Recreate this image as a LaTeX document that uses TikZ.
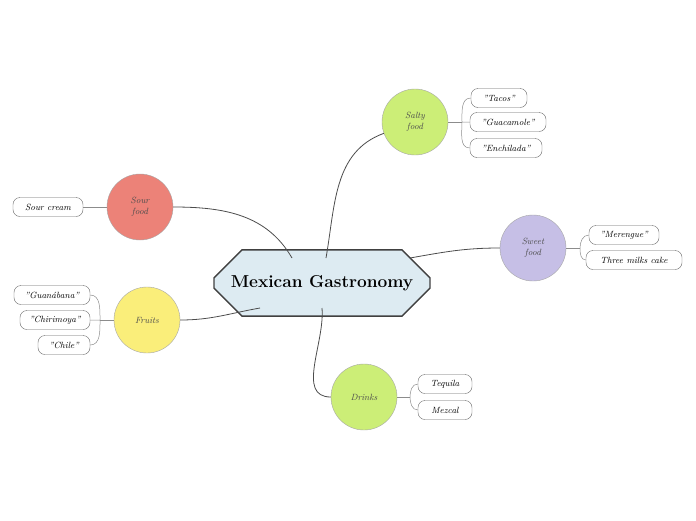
\documentclass[tikz,border=0pt]{standalone}
\usepackage{tikz}
\usetikzlibrary{positioning, shapes.geometric, shapes.misc, calc}
\definecolor{hexblue}{HTML}{DDEBF2}
\definecolor{saltgreen}{HTML}{CCEE77}
\definecolor{sourred}{HTML}{EC8278}
\definecolor{sweetlav}{HTML}{C6BFE6}
\definecolor{fruityel}{HTML}{FAEE7A}
\tikzset{
  topic/.style={circle, draw=gray!70, minimum size=66pt, inner sep=0pt, align=center, font=\small\itshape, text=black!70},
  leaf/.style={draw=black!60, rounded corners=7pt, fill=white, minimum height=19pt, inner sep=3pt, font=\small\itshape},
  link/.style={draw=black!70, line width=0.8pt},
  twig/.style={draw=black!45, line width=0.5pt}
}
\begin{document}
\begin{tikzpicture}[x=1pt,y=-1pt]
        \useasboundingbox (0,0) rectangle (696,520);
        \node[draw=black!75, line width=1.4pt, fill=hexblue, minimum width=216pt, minimum height=50pt, font=\LARGE\scshape\bfseries, chamfered rectangle, chamfered rectangle xsep=6pt, chamfered rectangle ysep=22pt, inner xsep=2pt] (root) at (322,283) {Mexican Gastronomy};
        \node[topic, fill=saltgreen] (salty) at (415,122) {Salty\\food};
        \node[topic, fill=sourred] (sour) at (140,207) {Sour\\food};
        \node[topic, fill=sweetlav] (sweet) at (533,248) {Sweet\\food};
        \node[topic, fill=fruityel] (fruits) at (147,320) {Fruits};
        \node[topic, fill=saltgreen] (drinks) at (364,397) {Drinks};
        % leaves
        \node[leaf, minimum width=56pt] (tacos) at (499,98) {"Tacos"};
        \node[leaf, minimum width=76pt] (guaca) at (508,122) {"Guacamole"};
        \node[leaf, minimum width=72pt] (enchi) at (506,148) {"Enchilada"};
        \node[leaf, minimum width=70pt] (cream) at (48,207) {Sour cream};
        \node[leaf, minimum width=70pt] (meren) at (624,235) {"Merengue"};
        \node[leaf, minimum width=96pt] (cake) at (634,260) {Three milks cake};
        \node[leaf, minimum width=76pt] (guana) at (52,295) {"Guanábana"};
        \node[leaf, minimum width=70pt] (chiri) at (55,320) {"Chirimoya"};
        \node[leaf, minimum width=52pt] (chile) at (64,345) {"Chile"};
        \node[leaf, minimum width=54pt] (tequ) at (445,384) {Tequila};
        \node[leaf, minimum width=54pt] (mezc) at (445,410) {Mezcal};
        % main links
        \path[link] (326,258) to[out=80,in=200] (salty);
        \path[link] (292,258) to[out=120,in=0] (sour);
        \path[link] (410,258) to[out=10,in=180] (sweet);
        \path[link] (260,308) to[out=190,in=0] (fruits);
        \path[link] (322,308) to[out=-85,in=180] (drinks);
        % twigs
        \coordinate (sj) at (462,122);
        \path[twig] (salty.east) -- (sj);
        \path[twig] (sj) to[out=90,in=180] (tacos.west) (sj) -- (guaca.west) (sj) to[out=-90,in=180] (enchi.west);
        \path[twig] (sour.west) -- (cream.east);
        \coordinate (wj) at (580,248);
        \path[twig] (sweet.east) -- (wj);
        \path[twig] (wj) to[out=90,in=180] (meren.west) (wj) to[out=-90,in=180] (cake.west);
        \coordinate (fj) at (100,320);
        \path[twig] (fruits.west) -- (fj);
        \path[twig] (fj) to[out=90,in=0] (guana.east) (fj) -- (chiri.east) (fj) to[out=-90,in=0] (chile.east);
        \coordinate (dj) at (410,397);
        \path[twig] (drinks.east) -- (dj);
        \path[twig] (dj) to[out=90,in=180] (tequ.west) (dj) to[out=-90,in=180] (mezc.west);
\end{tikzpicture}
\end{document}
